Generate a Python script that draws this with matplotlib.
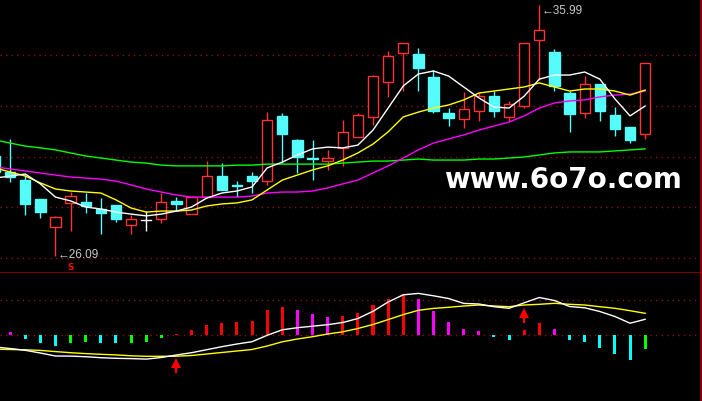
import matplotlib
matplotlib.use("Agg")
import matplotlib.pyplot as plt
from matplotlib.patches import Rectangle

# daily candles (first one is cut by the left edge)
opens = [30.02, 29.39, 29.07, 28.33, 27.22, 28.17, 28.21, 27.93, 28.09, 27.30,
         27.50, 27.54, 28.25, 27.73, 28.40, 29.23, 28.88, 29.23, 29.03, 31.60,
         30.65, 29.94, 29.82, 30.34, 30.77, 31.56, 32.94, 34.08, 34.04, 33.13,
         31.71, 31.48, 31.79, 32.38, 31.56, 31.99, 34.59, 34.12, 32.50, 31.71,
         32.86, 31.64, 31.16, 30.89]
closes = [29.39, 29.19, 28.13, 27.81, 27.62, 28.44, 28.05, 27.77, 27.54, 27.54,
          27.50, 28.21, 28.13, 28.40, 29.23, 28.68, 28.84, 29.03, 31.44, 30.89,
          29.98, 29.90, 29.94, 30.97, 31.64, 33.17, 33.96, 34.47, 33.49, 31.79,
          31.52, 31.87, 32.38, 31.79, 32.07, 34.47, 34.99, 32.78, 31.67, 32.86,
          31.79, 31.08, 30.65, 33.68]
highs = [30.26, 30.69, 29.27, 28.33, 27.66, 28.60, 28.56, 28.36, 28.09, 27.69,
         27.85, 28.56, 28.40, 28.44, 29.82, 29.74, 29.03, 29.39, 31.75, 31.71,
         30.69, 30.65, 30.26, 31.44, 31.71, 33.21, 34.16, 34.47, 34.28, 33.41,
         31.91, 32.54, 32.50, 32.58, 32.19, 34.47, 35.99, 34.24, 32.58, 33.17,
         32.86, 31.95, 31.16, 33.68]
lows = [29.23, 29.00, 27.69, 27.58, 26.09, 27.06, 27.77, 26.95, 27.42, 26.95,
        27.06, 27.38, 27.85, 27.73, 28.40, 28.68, 28.40, 28.56, 28.88, 29.74,
        29.35, 29.07, 29.47, 29.63, 30.77, 31.24, 32.35, 32.58, 32.58, 31.71,
        31.20, 31.12, 31.40, 31.56, 31.40, 31.91, 33.01, 32.58, 30.97, 31.52,
        31.40, 30.81, 30.53, 30.69]

# moving averages
ma5 = [29.15, 29.23, 29.31, 28.92, 28.40, 28.25, 28.01, 27.93, 27.81, 27.73,
       27.66, 27.73, 27.85, 28.01, 28.36, 28.56, 28.64, 28.80, 29.55, 29.78,
       30.06, 30.30, 30.37, 30.34, 30.45, 31.04, 31.91, 32.78, 33.25, 33.37,
       33.17, 32.74, 32.31, 31.95, 31.91, 32.38, 33.05, 33.21, 33.21, 33.33,
       33.05, 32.27, 31.60, 31.99]
ma10 = [29.55, 29.39, 29.23, 28.96, 28.72, 28.64, 28.60, 28.56, 28.29, 27.97,
        27.81, 27.85, 27.85, 27.89, 28.05, 28.13, 28.17, 28.29, 28.68, 29.07,
        29.27, 29.47, 29.63, 29.86, 30.14, 30.49, 30.97, 31.56, 31.75, 31.91,
        32.03, 32.23, 32.50, 32.58, 32.66, 32.74, 32.90, 32.74, 32.58, 32.66,
        32.66, 32.58, 32.42, 32.62]
ma20 = [29.59, 29.51, 29.43, 29.35, 29.27, 29.19, 29.15, 29.11, 29.03, 28.88,
        28.72, 28.60, 28.48, 28.40, 28.40, 28.40, 28.40, 28.44, 28.56, 28.60,
        28.60, 28.64, 28.76, 28.92, 29.07, 29.35, 29.63, 29.94, 30.26, 30.53,
        30.69, 30.85, 31.04, 31.20, 31.36, 31.60, 31.91, 32.11, 32.19, 32.23,
        32.35, 32.42, 32.46, 32.58]
ma60 = [30.65, 30.53, 30.41, 30.34, 30.26, 30.14, 30.02, 29.94, 29.86, 29.78,
        29.74, 29.66, 29.63, 29.63, 29.63, 29.63, 29.66, 29.66, 29.70, 29.70,
        29.70, 29.70, 29.70, 29.74, 29.78, 29.82, 29.82, 29.86, 29.90, 29.86,
        29.86, 29.86, 29.90, 29.90, 29.94, 29.98, 30.06, 30.14, 30.18, 30.18,
        30.18, 30.22, 30.26, 30.30]

# MACD panel
dif = [-0.117, -0.132, -0.150, -0.177, -0.207, -0.208, -0.214, -0.224, -0.230, -0.233,
       -0.238, -0.222, -0.197, -0.174, -0.144, -0.114, -0.087, -0.064, 0.000, 0.055,
       0.076, 0.091, 0.106, 0.128, 0.168, 0.240, 0.333, 0.405, 0.419, 0.395,
       0.368, 0.319, 0.313, 0.286, 0.270, 0.325, 0.378, 0.348, 0.288, 0.275,
       0.238, 0.188, 0.121, 0.160]
dea = [-0.139, -0.142, -0.145, -0.151, -0.163, -0.174, -0.183, -0.190, -0.196, -0.205,
       -0.210, -0.210, -0.209, -0.202, -0.187, -0.172, -0.157, -0.142, -0.107, -0.065,
       -0.037, -0.014, 0.013, 0.035, 0.068, 0.108, 0.157, 0.207, 0.250, 0.269,
       0.280, 0.293, 0.303, 0.293, 0.286, 0.303, 0.310, 0.320, 0.310, 0.303,
       0.286, 0.270, 0.246, 0.220]
macd_bar = [0.045, 0.030, -0.033, -0.073, -0.103, -0.073, -0.063, -0.072, -0.074, -0.073,
            -0.063, -0.023, 0.017, 0.057, 0.107, 0.127, 0.137, 0.147, 0.257, 0.287,
            0.257, 0.217, 0.187, 0.197, 0.227, 0.307, 0.367, 0.417, 0.367, 0.247,
            0.137, 0.067, 0.047, -0.017, -0.047, 0.057, 0.127, 0.067, -0.047, -0.067,
            -0.127, -0.187, -0.247, -0.137]

high_idx, low_idx = 36, 4
sell_idx = 5
buy_idx = [12, 35]
buy_level = [-0.24, 0.26]
price_grid = [26, 28, 30, 32, 34]
macd_grid = [0.0, 0.353]

RED = "#ff3232"
CYAN = "#54fcfc"
BORDER = "#a00000"
GRID = "#8c1010"

W, H = 702, 401
fig = plt.figure(figsize=(W / 100, H / 100), dpi=100, facecolor="black")
ax = fig.add_axes([0, 128 / H, 701 / W, 273 / H], facecolor="black")
ax2 = fig.add_axes([0, 0, 701 / W, 128 / H], facecolor="black")

n = len(closes)
xs = list(range(n))
px = 15.12  # pixels per candle
x0, x1 = 5 / px, 706 / px

for a in (ax, ax2):
    a.set_xlim(x0, x1)
    a.set_xticks([])
    a.set_yticks([])
    for s in a.spines.values():
        s.set_visible(False)
    a.spines["right"].set_visible(True)
    a.spines["right"].set_color(BORDER)
    a.spines["right"].set_linewidth(1.2)
ax.spines["bottom"].set_visible(True)
ax.spines["bottom"].set_color(BORDER)
ax.spines["bottom"].set_linewidth(1.2)

ax.set_ylim(26 - 15 / 25.375, 26 + 258 / 25.375)
for g in price_grid:
    ax.axhline(g, color=GRID, lw=1, ls=(0, (1, 3)), zorder=0)

bw = 0.68
for i in xs:
    o, c, h, l = opens[i], closes[i], highs[i], lows[i]
    if c > o:
        col = RED
    elif c < o:
        col = CYAN
    else:
        col = "white"
    ax.plot([i, i], [l, h], color=col, lw=1, zorder=2, solid_capstyle="butt")
    if c == o:
        ax.plot([i - bw / 2, i + bw / 2], [o, o], color=col, lw=1, zorder=3)
        continue
    lo, hi = min(o, c), max(o, c)
    face = "black" if c > o else col
    ax.add_patch(Rectangle((i - bw / 2, lo), bw, max(hi - lo, 0.02),
                           facecolor=face, edgecolor=col, lw=1, zorder=3))

ax.plot(xs, ma60, color="#00ff00", lw=1, zorder=4)
ax.plot(xs, ma20, color="#ff00ff", lw=1, zorder=4)
ax.plot(xs, ma10, color="#ffff00", lw=1, zorder=4)
ax.plot(xs, ma5, color="white", lw=1, zorder=4)

lab_font = ["Liberation Sans", "DejaVu Sans"]
ax.text(high_idx + 0.15, highs[high_idx], "\u2190" + f"{highs[high_idx]:.2f}",
        color="#c8c8c8", fontsize=8.5, family=lab_font, ha="left", va="top")
ax.text(low_idx + 0.15, lows[low_idx] + 0.04, "\u2190" + f"{lows[low_idx]:.2f}",
        color="#c8c8c8", fontsize=8.5, family=lab_font, ha="left", va="center")
ax.text(sell_idx, lows[low_idx] - 0.27, "S", color="red", fontsize=6.5,
        fontweight="bold", ha="center", va="top")

ax.text(563 / 701, 1 - 180 / 273, "www.6o7o.com", transform=ax.transAxes,
        color="white", fontsize=20, fontweight="bold", ha="center", va="center",
        zorder=6)

# MACD
ax2.set_ylim(-0.657, 0.623)
for g in macd_grid:
    ax2.axhline(g, color=GRID, lw=1, ls=(0, (1, 3)), zorder=0)
for i in xs:
    v = macd_bar[i]
    prev = macd_bar[i - 1] if i > 0 else v
    if v >= 0:
        col = "#ff0000" if v >= prev else "#ff00ff"
    else:
        col = "#00ffff" if v < prev else "#00ff00"
    ax2.bar(i, v, width=0.2, color=col, zorder=2)
ax2.plot(xs, dea, color="#ffff00", lw=1, zorder=3)
ax2.plot(xs, dif, color="white", lw=1, zorder=3)
# buy arrows: triangle head with a short shaft below
for bi, bl in zip(buy_idx, buy_level):
    ax2.plot([bi, bi], [bl - 0.06, bl - 0.135], color="red", lw=1.6,
             solid_capstyle="butt", zorder=5)
    ax2.plot([bi], [bl - 0.035], marker="^", markersize=6.5, color="red",
             markeredgewidth=0, zorder=5)

fig.savefig("out.png", dpi=100, facecolor="black")
